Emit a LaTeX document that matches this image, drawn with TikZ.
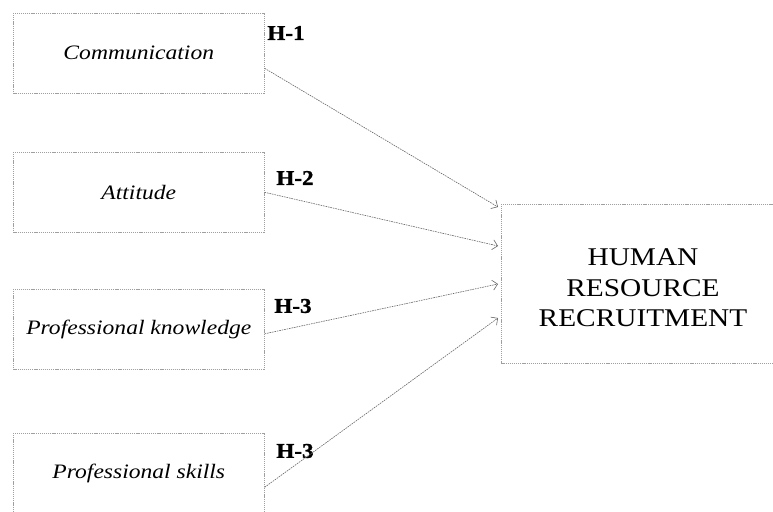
\documentclass[tikz,border=0pt]{standalone}
\usepackage{fontspec}
\setmainfont{Liberation Serif}
\newfontfamily\widefont[FakeStretch=1.15]{Liberation Serif}
\newfontfamily\hfont[FakeStretch=1.1,FakeBold=1.2]{Liberation Serif Bold}
\usetikzlibrary{arrows.meta}
\begin{document}
\begin{tikzpicture}[x=1pt,y=-1pt,
  box/.style={draw=gray!75, line width=0.6pt, dash pattern=on 1.2pt off 0.9pt, minimum width=251pt, minimum height=80pt, inner sep=0pt, anchor=north west},
  lab/.style={font=\widefont\itshape\fontsize{20.5}{24}\selectfont},
  hyp/.style={font=\hfont\fontsize{21}{24}\selectfont, inner sep=0pt},
  link/.style={draw=gray!80!black, line width=0.6pt, dash pattern=on 1.6pt off 0.9pt, -{Straight Barb[length=5pt,width=10pt]}}]
\useasboundingbox (0,0) rectangle (773,511);
\clip (0,0) rectangle (773,511);
\node[box] (c1) at (13,13) {};
\node[box] (c2) at (13,152) {};
\node[box] (c3) at (13,289) {};
\node[box] (c4) at (13,433) {};
\node[lab] at (c1.center) {Communication};
\node[lab] at (c2.center) {Attitude};
\node[lab] at (c3.center) {Professional knowledge};
\node[lab] at (c4.center) {Professional skills};
\node[box, minimum width=284pt, minimum height=159pt] (hr) at (501,204) {};
\node[align=center, font=\widefont\fontsize{25.5}{30.5}\selectfont] at (643,288) {HUMAN\\RESOURCE\\RECRUITMENT};
\node[hyp] (h1) at (286,33) {H-1};
\node[hyp] (h2) at (295,178) {H-2};
\node[hyp] (h3) at (293,306) {H-3};
\node[hyp] (h4) at (295,451) {H-3};
\coordinate (e1) at (498,207);
\coordinate (e2) at (498,246);
\coordinate (e3) at (498,284);
\coordinate (e4) at (498,318);
\draw[link] ([yshift=-15pt]c1.east) -- (e1);
\draw[link] (c2.east) -- (e2);
\draw[link] ([yshift=-4.5pt]c3.east) -- (e3);
\draw[link] ([yshift=-14pt]c4.east) -- (e4);
\end{tikzpicture}
\end{document}
